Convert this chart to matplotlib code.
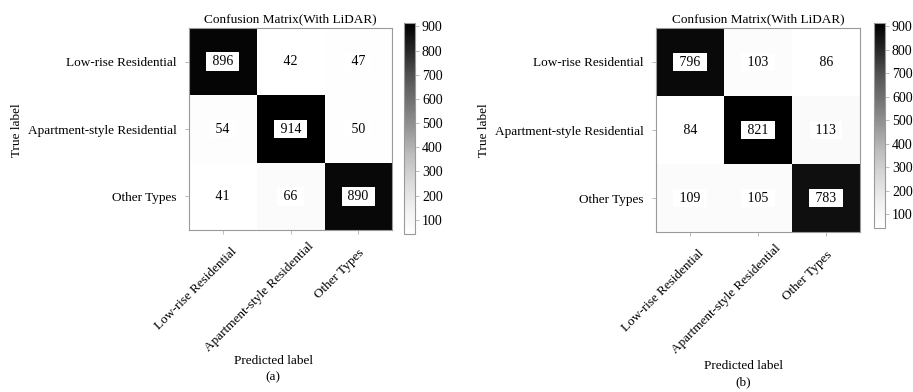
import numpy as np
import matplotlib
matplotlib.use("Agg")
import matplotlib.pyplot as plt
from matplotlib.colors import Normalize
from matplotlib.cm import ScalarMappable
from matplotlib.transforms import ScaledTranslation

plt.rcParams['font.family'] = ['Liberation Serif', 'DejaVu Serif']

classes = ["Low-rise Residential", "Apartment-style Residential", "Other Types"]
cm_a = [[896, 42, 47],
        [54, 914, 50],
        [41, 66, 890]]
cm_b = [[796, 103, 86],
        [84, 821, 113],
        [109, 105, 783]]
titles = ["Confusion Matrix(With LiDAR)", "Confusion Matrix(With LiDAR)"]
panel_tags = ["(a)", "(b)"]
cbar_ticks = [100, 200, 300, 400, 500, 600, 700, 800, 900]

W, H = 913, 392
DPI = 100
fig = plt.figure(figsize=(W / DPI, H / DPI), dpi=DPI)


def px_axes(x0, y0, x1, y1):
    return fig.add_axes([x0 / W, 1 - y1 / H, (x1 - x0) / W, (y1 - y0) / H])


all_vals = np.array(cm_a + cm_b)
cbar_norm = Normalize(vmin=all_vals.min(), vmax=all_vals.max())

layout = [
    dict(ax=(189, 28, 392, 230), cb=(404, 23, 415, 234), ylab=17, xlab=273, xlab_y=361),
    dict(ax=(656, 28, 860, 232), cb=(874, 23, 885, 228), ylab=484, xlab=743, xlab_y=366),
]
# per-label nudges (pixels, right / down) for the rotated x tick labels
xlabel_nudge = [(8, 3), (17, -2), (0, 4)]
spine_col = "#9a9a9a"
fs = 9.5

for cm, title, tag, lay in zip([cm_a, cm_b], titles, panel_tags, layout):
    data = np.array(cm)
    ax = px_axes(*lay["ax"])
    ax.imshow(data, cmap="Greys", aspect="auto", interpolation="nearest",
              vmin=data.min(), vmax=data.max())
    ax.set_title(title, fontsize=fs, pad=4)
    ax.set_xticks(range(len(classes)))
    ax.set_yticks(range(len(classes)))
    ax.set_xticklabels(classes, rotation=45, ha="right", rotation_mode="anchor", fontsize=fs)
    ax.set_yticklabels(classes, fontsize=fs)
    ax.tick_params(length=3, width=0.6, color="#b0b0b0", pad=6)
    for lbl, (dx, dy) in zip(ax.get_xticklabels(), xlabel_nudge):
        lbl.set_transform(lbl.get_transform() +
                          ScaledTranslation(dx / DPI, -dy / DPI, fig.dpi_scale_trans))
    for s in ax.spines.values():
        s.set_color(spine_col)
        s.set_linewidth(0.8)
    for i in range(data.shape[0]):
        for j in range(data.shape[1]):
            ax.text(j, i, f" {data[i, j]} ", ha="center", va="center", fontsize=10,
                    color="black",
                    bbox=dict(boxstyle="square,pad=0.2", facecolor="white", edgecolor="none"))

    cax = px_axes(*lay["cb"])
    cb = fig.colorbar(ScalarMappable(norm=cbar_norm, cmap="Greys"), cax=cax, ticks=cbar_ticks)
    cb.outline.set_edgecolor(spine_col)
    cb.outline.set_linewidth(0.8)
    cax.tick_params(length=3, width=0.6, color="#b0b0b0", labelsize=10, pad=2)

    fig.text(lay["ylab"] / W, 1 - 130 / H, "True label", rotation=90,
             ha="center", va="center", fontsize=fs)
    fig.text(lay["xlab"] / W, 1 - lay["xlab_y"] / H, "Predicted label",
             ha="center", va="center", fontsize=fs)
    fig.text(lay["xlab"] / W, 1 - (lay["xlab_y"] + 16) / H, tag,
             ha="center", va="center", fontsize=fs)

fig.savefig("out.png", dpi=DPI)
